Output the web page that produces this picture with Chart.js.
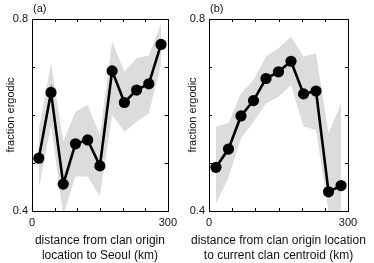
<!DOCTYPE html>
<html>
<head>
<meta charset="utf-8">
<script src="https://cdn.jsdelivr.net/npm/chart.js@4"></script>
<style>
  html, body { margin: 0; padding: 0; background: #fff; }
  body { width: 374px; height: 263px; position: relative; overflow: hidden; }
  .panel { position: absolute; top: 0; height: 263px; }
</style>
</head>
<body>
<div class="panel" id="pa" style="left:0;width:182px"><canvas id="ca" width="182" height="263"></canvas></div>
<div class="panel" id="pb" style="left:182px;width:192px"><canvas id="cb" width="192" height="263"></canvas></div>
<script>
// ---- data ----
const distances = [15, 42, 69, 96, 123, 150, 177, 204, 231, 258, 285];

const seoulMean  = [0.510, 0.647, 0.456, 0.540, 0.548, 0.494, 0.692, 0.626, 0.652, 0.665, 0.747];
const seoulUpper = [0.569, 0.708, 0.545, 0.607, 0.621, 0.558, 0.753, 0.690, 0.718, 0.724, 0.790];
const seoulLower = [0.447, 0.579, 0.390, 0.472, 0.472, 0.430, 0.600, 0.565, 0.586, 0.603, 0.704];

const centroidMean  = [0.491, 0.529, 0.598, 0.630, 0.676, 0.690, 0.712, 0.644, 0.650, 0.440, 0.453];
const centroidUpper = [0.576, 0.583, 0.645, 0.673, 0.722, 0.739, 0.763, 0.722, 0.728, 0.562, 0.624];
const centroidLower = [0.415, 0.470, 0.551, 0.586, 0.624, 0.638, 0.662, 0.576, 0.569, 0.398, 0.398];

const yTickLabels = ['0.4', '0.8'];
const xTickLabels = ['0', '300'];
const yTitle = 'fraction ergodic';
const xTitleA = ['distance from clan origin', 'location to Seoul (km)'];
const xTitleB = ['distance from clan origin location', 'to current clan centroid (km)'];

const FONT = "'Liberation Sans', Arial, Helvetica, sans-serif";

function pts(xs, ys) { return xs.map((x, i) => ({ x: x, y: ys[i] })); }

const framePlugin = {
  id: 'frame',
  afterDatasetsDraw(chart, args, opts) {
    const ctx = chart.ctx;
    const a = chart.chartArea;
    const xs = chart.scales.x, ys = chart.scales.y;
    ctx.save();
    ctx.strokeStyle = '#000';
    ctx.lineWidth = 1;
    ctx.strokeRect(Math.round(a.left) + 0.5, Math.round(a.top) + 0.5,
                   Math.round(a.right - a.left), Math.round(a.bottom - a.top));
    const tl = 3;
    ctx.beginPath();
    xs.ticks.forEach(t => {
      if (t.value <= xs.min || t.value >= xs.max) return;
      const px = Math.round(xs.getPixelForValue(t.value)) + 0.5;
      ctx.moveTo(px, a.top); ctx.lineTo(px, a.top + tl);
      ctx.moveTo(px, a.bottom); ctx.lineTo(px, a.bottom - tl);
    });
    ys.ticks.forEach(t => {
      if (t.value <= ys.min + 1e-9 || t.value >= ys.max - 1e-9) return;
      const py = Math.round(ys.getPixelForValue(t.value)) + 0.5;
      ctx.moveTo(a.left, py); ctx.lineTo(a.left + tl, py);
      ctx.moveTo(a.right, py); ctx.lineTo(a.right - tl, py);
    });
    ctx.stroke();
    ctx.fillStyle = '#111';
    ctx.font = '11px ' + FONT;
    ctx.textAlign = 'left';
    ctx.textBaseline = 'middle';
    ctx.fillText(opts.label, a.left + 1, a.top - 10);
    // x-axis title (drawn without width squeezing)
    ctx.font = '12px ' + FONT;
    ctx.textAlign = 'center';
    const cx = (a.left + a.right) / 2;
    opts.xTitle.forEach((line, i) => {
      ctx.fillText(line, cx, a.bottom + 30 + i * 15);
    });
    ctx.restore();
  }
};

function makeChart(id, mean, upper, lower, label, xTitle, yWidth, rightPad) {
  return new Chart(document.getElementById(id), {
    type: 'line',
    data: {
      datasets: [
        {
          data: pts(distances, mean),
          borderColor: '#000', backgroundColor: '#000',
          borderWidth: 2.6, pointRadius: 5.6, pointHoverRadius: 5.6,
          pointBorderWidth: 0, fill: false, tension: 0
        },
        {
          data: pts(distances, upper),
          borderWidth: 0, pointRadius: 0, borderColor: 'rgba(0,0,0,0)',
          backgroundColor: '#dcdcdc', fill: '+1', tension: 0
        },
        {
          data: pts(distances, lower),
          borderWidth: 0, pointRadius: 0, borderColor: 'rgba(0,0,0,0)',
          backgroundColor: '#dcdcdc', fill: false, tension: 0
        }
      ]
    },
    options: {
      responsive: false,
      animation: false,
      events: [],
      layout: { padding: { top: 19, right: rightPad, left: 0, bottom: 0 } },
      plugins: { legend: { display: false }, tooltip: { enabled: false }, frame: { label: label, xTitle: xTitle } },
      scales: {
        x: {
          type: 'linear', min: 0, max: 300,
          grid: { display: false, drawTicks: false },
          border: { display: false },
          ticks: {
            stepSize: 50, padding: 5, color: '#111', maxRotation: 0, autoSkip: false,
            font: { family: FONT, size: 11 },
            callback: v => { const s = String(v); return xTickLabels.includes(s) ? s : ''; }
          },
          title: { display: false },
          afterFit: s => { s.height = 52; }
        },
        y: {
          type: 'linear', min: 0.4, max: 0.8,
          grid: { display: false, drawTicks: false },
          border: { display: false },
          ticks: {
            stepSize: 0.1, padding: 4, color: '#111',
            font: { family: FONT, size: 11 },
            callback: v => { const s = (Math.round(v * 10) / 10).toFixed(1); return yTickLabels.includes(s) ? s : ''; }
          },
          title: {
            display: true, text: yTitle, color: '#111',
            font: { family: FONT, size: 11, lineHeight: 1.2 },
            padding: { top: 4, bottom: 0 }
          },
          afterFit: s => { s.width = yWidth; }
        }
      }
    },
    plugins: [framePlugin]
  });
}

makeChart('ca', seoulMean, seoulUpper, seoulLower, '(a)', xTitleA, 32, 10);
makeChart('cb', centroidMean, centroidUpper, centroidLower, '(b)', xTitleB, 27, 26);
</script>
</body>
</html>
